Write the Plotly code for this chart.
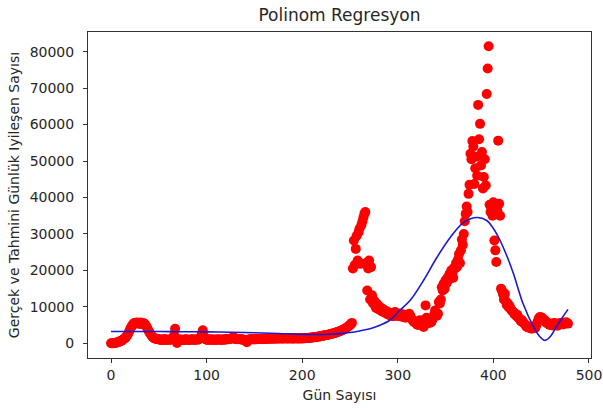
import plotly.graph_objects as go

# Daily recovered counts (index = day number)
daily_recovered = [
    0, 0, 0, 50, 100, 150, 200, 300, 400, 500,
    600, 700, 900, 1100, 1300, 1500, 1800, 2200, 2700, 3300,
    3900, 4400, 4800, 5200, 5500, 5600, 5400, 5700, 5500, 5600,
    5300, 5700, 5400, 5600, 5200, 5400, 5000, 4600, 4100, 3600,
    3100, 2700, 2300, 1900, 1600, 1400, 1300, 1200, 1250, 1150,
    1100, 1000, 950, 1050, 900, 1000, 1150, 950, 900, 1000,
    1050, 950, 1000, 1100, 1200, 1500, 2200, 4000, 1200, 100,
    900, 1000, 950, 1050, 1000, 900, 950, 1000, 1100, 1050,
    1000, 950, 900, 1000, 1050, 1100, 1000, 950, 1000, 1050,
    1100, 1000, 1200, 1400, 1800, 2500, 3600, 2000, 1300, 1100,
    1000, 950, 1000, 1050, 1100, 1000, 950, 1000, 1050, 1000,
    950, 1000, 1100, 1050, 1000, 950, 1000, 1050, 1100, 1000,
    1050, 1100, 1150, 1100, 1200, 1250, 1300, 1400, 1700, 1300,
    1200, 1150, 1100, 1200, 1150, 1100, 1050, 1100, 1000, 950,
    900, 700, 300, 800, 1000, 1100, 1050, 1100, 1150, 1100,
    1100, 1150, 1100, 1150, 1200, 1150, 1200, 1150, 1200, 1250,
    1200, 1250, 1200, 1250, 1300, 1250, 1300, 1250, 1300, 1300,
    1250, 1300, 1350, 1300, 1350, 1300, 1350, 1400, 1350, 1300,
    1350, 1400, 1350, 1400, 1300, 1350, 1400, 1350, 1400, 1350,
    1300, 1350, 1400, 1350, 1400, 1300, 1350, 1400, 1350, 1400,
    1350, 1400, 1380, 1420, 1450, 1430, 1480, 1500, 1520, 1550,
    1580, 1600, 1650, 1700, 1680, 1750, 1800, 1850, 1900, 1950,
    2000, 2050, 2100, 2150, 2200, 2250, 2300, 2350, 2400, 2500,
    2550, 2600, 2700, 2750, 2850, 2900, 3000, 3100, 3200, 3300,
    3400, 3500, 3650, 3750, 3900, 4050, 4200, 4400, 4600, 4800,
    5000, 5300, 5600, 20500, 28200, 21500, 25900, 29500, 22700, 30500,
    31500, 21800, 32500, 33500, 34500, 35500, 36000, 22000, 14500, 20500,
    22700, 12000, 20900, 13200, 11000, 11800, 10500, 9800, 10900, 9500,
    10200, 9200, 9800, 8800, 9400, 8600, 9100, 8300, 8800, 8000,
    8500, 7800, 8300, 7600, 8100, 7400, 7900, 8600, 8000, 7500,
    7800, 8200, 7500, 7900, 7300, 8000, 7600, 7200, 7000, 7500,
    7800, 7200, 8100, 7600, 6900, 6500, 6200, 5800, 6000, 5500,
    5200, 5000, 5800, 6300, 5400, 5000, 4800, 4500, 6300, 10400,
    7000, 6500, 6000, 5600, 6200, 5800, 6400, 7000, 7800, 9000,
    8200, 7600, 8100, 11300, 10900, 12000, 15400, 14500, 16400, 15000,
    17300, 16500, 18000, 17300, 19000, 18500, 20000, 19200, 18000, 20800,
    20500, 22000, 21000, 23000, 24500, 22000, 25500, 28500, 27000, 30000,
    33500, 35500, 37500, 36000, 41000, 43500, 52000, 50500, 55500, 54000,
    43700, 48000, 51200, 46000, 65400, 56000, 60200, 48800, 52500, 42500,
    45600, 50500, 43300, 68400, 75400, 81500, 38000, 36000, 37500, 35000,
    38700, 28200, 25500, 22300, 36500, 55600, 38300, 35000, 15000, 14500,
    13500, 12000, 13600, 11500, 10500, 11000, 9900, 10200, 9500, 9000,
    8800, 8500, 8000, 8100, 7500, 7800, 7000, 6800, 6500, 6000,
    6300, 5800, 5500, 5200, 4800, 4500, 4700, 4300, 4500, 4200,
    4000, 4400, 4200, 4600, 4300, 5000, 5800, 6500, 7100, 7200,
    6800, 7000, 6500, 6200, 6300, 5800, 5500, 5600, 5200, 5000,
    5400, 5100, 4900, 5400, 5600, 5300, 5000, 4800, 5200, 5400,
    5600, 5300, 5500, 5200, 5400, 5600, 5800, 5500, 5400,
]
days = list(range(len(daily_recovered)))

# Polynomial regression curve, values at sample days
fit_days = [0, 25, 50, 75, 100, 125, 150, 175, 195, 215, 230, 240, 250, 260,
            271, 280, 292, 302, 313, 327, 341, 355, 369, 383, 393, 400, 407,
            414, 421, 431, 442, 448, 454, 460, 466, 472, 478]
fit_values = [3250, 3250, 3220, 3180, 3130, 3050, 2900, 2700, 2500, 2420, 2500,
              2650, 2950, 3400, 4000, 4800, 6400, 9000, 11800, 17300, 23600,
              29100, 33200, 34500, 33700, 31500, 28200, 24000, 19100, 10900,
              4500, 2000, 800, 2000, 4600, 7000, 9300]

x_ticks = [0, 100, 200, 300, 400, 500]
y_ticks = [0, 10000, 20000, 30000, 40000, 50000, 60000, 70000, 80000]

FONT = "DejaVu Sans"

fig = go.Figure()
fig.add_trace(go.Scatter(
    x=days, y=daily_recovered, mode="markers",
    marker=dict(color="#ff0000", size=10, line=dict(width=0)),
    showlegend=False, hoverinfo="skip",
))
fig.add_trace(go.Scatter(
    x=fit_days, y=fit_values, mode="lines",
    line=dict(color="#1a1ad0", width=1.6, shape="spline", smoothing=1.0),
    showlegend=False, hoverinfo="skip",
))

axis_common = dict(
    showgrid=False, zeroline=False, showline=True, mirror=True,
    linecolor="#333333", linewidth=1, ticks="outside", ticklen=4,
    tickcolor="#333333", tickwidth=1, automargin=False,
    tickfont=dict(family=FONT, size=14, color="#262626"),
)

fig.update_layout(
    width=603, height=408,
    margin=dict(l=88, r=12, t=32, b=50),
    paper_bgcolor="white", plot_bgcolor="white",
    font=dict(family=FONT, color="#262626"),
    title=dict(text="Polinom Regresyon", x=0.5, xref="paper", xanchor="center",
               y=1 - 15 / 408, yanchor="middle", yref="container",
               font=dict(family=FONT, size=17, color="#262626")),
    xaxis=dict(range=[-24.1, 502.1], tickvals=x_ticks,
               ticktext=[str(v) for v in x_ticks],
               title=dict(text="Gün Sayısı", standoff=8,
                          font=dict(family=FONT, size=14, color="#262626")),
               **axis_common),
    yaxis=dict(range=[-4030, 85400], tickvals=y_ticks,
               ticktext=[str(v) for v in y_ticks], ticklabelstandoff=6,
               title=dict(text="Gerçek ve Tahmini Günlük Iyileşen Sayısı", standoff=6,
                          font=dict(family=FONT, size=14, color="#262626")),
               **axis_common),
)

fig.write_html("out.html")
